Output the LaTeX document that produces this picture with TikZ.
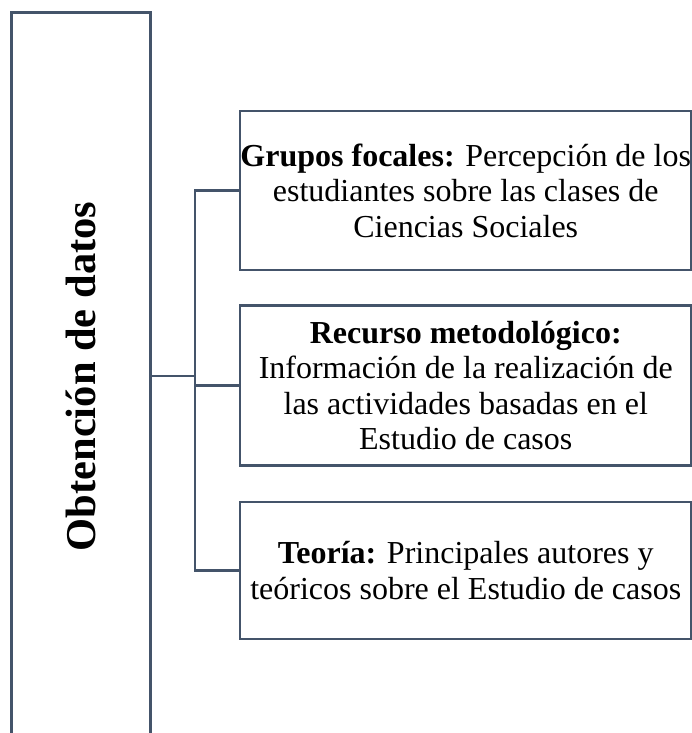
\documentclass[tikz,border=0pt]{standalone}
\usepackage{fontspec}
\setmainfont{Liberation Serif}
\definecolor{framec}{HTML}{44546A}
\begin{document}
\begin{tikzpicture}[x=1pt,y=-1pt,
  line/.style={draw=framec,line width=2.6pt},
  infobox/.style={line,rectangle,minimum width=451.5pt,inner sep=0pt,align=center,
    font=\fontsize{32}{35.5}\selectfont},
]
\useasboundingbox (0,0) rectangle (692,733);
% left tall box (open at the bottom)
\node[minimum width=138pt,minimum height=735pt,inner sep=0pt] (obt) at (81,380.5) {};
\draw[line,line width=2.8pt] (obt.south west) -- (obt.north west) -- (obt.north east) -- (obt.south east);
\node[rotate=90,font=\fontsize{42.5}{46}\selectfont\bfseries] (obtlabel) at (81,376.5) {Obtención de datos};
% right boxes
\node[infobox,minimum height=159pt] (b1) at (465.75,190.5)
  {\textbf{Grupos focales:} Percepción de los\\estudiantes sobre las clases de\\Ciencias Sociales};
\node[infobox,minimum height=160pt] (b2) at (465.75,385.5)
  {\textbf{Recurso metodológico:}\\Información de la realización de\\las actividades basadas en el\\Estudio de casos};
\node[infobox,minimum height=137pt] (b3) at (465.75,570.5)
  {\textbf{Teoría:} Principales autores y\\teóricos sobre el Estudio de casos};
% connectors
\coordinate (trunk) at (195,376);
\draw[line] (b1.west) -| (trunk) |- (b3.west);
\draw[line] (trunk |- b2.west) -- (b2.west);
\draw[line] (obt.east |- trunk) -- (trunk);
\end{tikzpicture}
\end{document}
